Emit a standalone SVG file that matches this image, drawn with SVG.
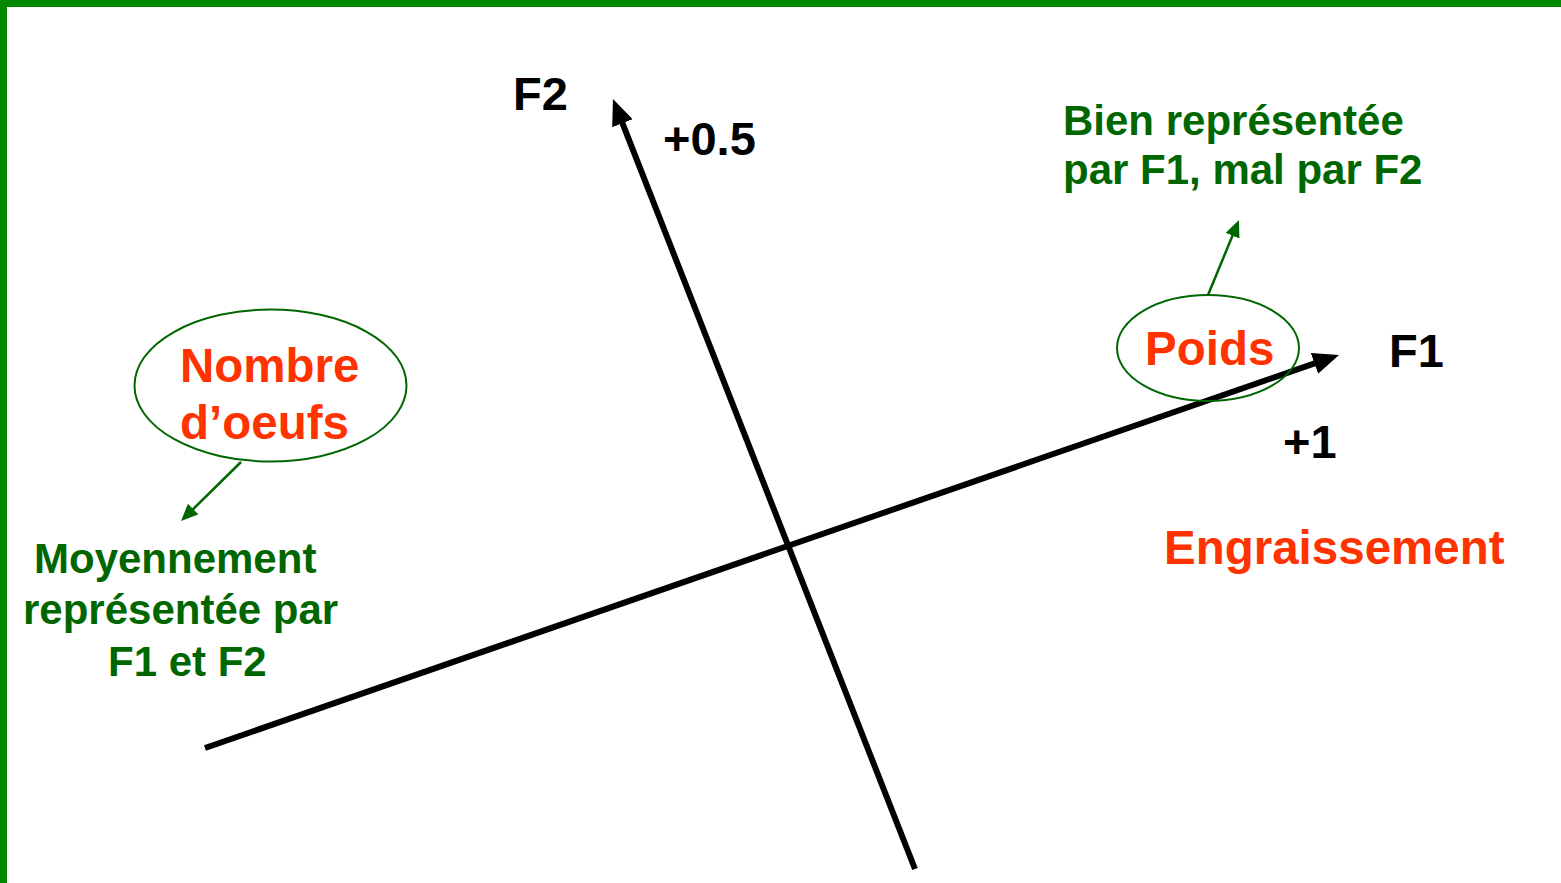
<svg xmlns="http://www.w3.org/2000/svg" width="1561" height="883" viewBox="0 0 1561 883">
<style>
text{font-family:"Liberation Sans",Arial,sans-serif;font-weight:bold}
.k{fill:#000;font-size:47px}
.o{fill:#FF3300;font-size:47.5px}
.g{fill:#006600;font-size:42px}
.axis{stroke:#000;stroke-width:6;fill:none}
.lead{stroke:#006600;stroke-width:2.5;fill:none}
.ell{fill:none;stroke:#006600;stroke-width:2}
</style>
<defs>
<marker id="ak" markerUnits="userSpaceOnUse" viewBox="0 0 26 22" markerWidth="26" markerHeight="22" refX="10" refY="11" orient="auto"><path d="M0,0 L26,11 L0,22 z" fill="#000"/></marker>
<marker id="ag" markerUnits="userSpaceOnUse" viewBox="0 0 17 15" markerWidth="17" markerHeight="15" refX="5" refY="7.5" orient="auto"><path d="M0,0 L17,7.5 L0,15 z" fill="#006600"/></marker>
</defs>
<rect x="0" y="0" width="1561" height="883" fill="#fff"/>
<rect x="0" y="0" width="1561" height="7" fill="#008800"/>
<rect x="0" y="0" width="7" height="883" fill="#008800"/>
<g id="connectors">
<path class="axis" d="M205,748 L1323.9,360.2" marker-end="url(#ak)"/>
<path class="axis" d="M915,869 L618.8,113.9" marker-end="url(#ak)"/>
<path class="lead" d="M1208,295 L1234.4,231.1" marker-end="url(#ag)"/>
<path class="lead" d="M241,462 L189.6,512.6" marker-end="url(#ag)"/>
</g>
<g id="axis-labels">
<text class="k" x="513" y="110">F2</text>
<text class="k" x="663" y="155">+0.5</text>
<text class="k" x="1389" y="367">F1</text>
<text class="k" x="1283" y="458">+1</text>
</g>
<g id="nombre">
<ellipse class="ell" cx="270.5" cy="385.5" rx="136" ry="76"/>
<text class="o" x="180" y="382">Nombre</text>
<text class="o" x="180" y="439">d’oeufs</text>
</g>
<g id="poids">
<ellipse class="ell" cx="1208" cy="348" rx="91" ry="53"/>
<text class="o" x="1145" y="365">Poids</text>
</g>
<g id="engraissement">
<text class="o" x="1164" y="564">Engraissement</text>
</g>
<g id="note-poids">
<text class="g" x="1063" y="135">Bien représentée</text>
<text class="g" x="1063" y="184">par F1, mal par F2</text>
</g>
<g id="note-nombre">
<text class="g" x="34" y="573">Moyennement</text>
<text class="g" x="23" y="624">représentée par</text>
<text class="g" x="108" y="676">F1 et F2</text>
</g>
</svg>
